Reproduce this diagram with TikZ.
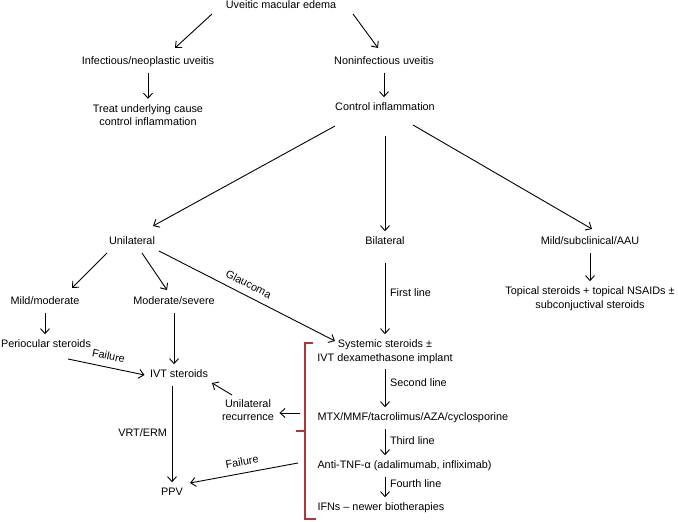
\documentclass[tikz,border=0pt]{standalone}
\usepackage{fontspec}
\setmainfont{Liberation Sans}
\usetikzlibrary{arrows.meta, positioning, calc}
\definecolor{bracketred}{RGB}{178,52,58}

\begin{document}
\begin{tikzpicture}[
    x=1bp, y=-1bp,
    >={Straight Barb[length=5bp, width=9bp]},
    txt/.style={inner sep=0pt, outer sep=5.5bp, text height=8bp, text depth=2.5bp, font=\fontsize{10.9}{13.5}\selectfont},
    txtii/.style={inner sep=0pt, outer sep=5.5bp, align=center, font=\fontsize{10.9}{13.5}\selectfont},
    lbl/.style={inner sep=2bp, outer sep=3bp, text height=8bp, text depth=2.5bp, font=\fontsize{10.9}{13.5}\selectfont},
    arr/.style={->, line width=0.9bp},
    brack/.style={line width=1.2bp, bracketred}
]
\useasboundingbox (0,0) rectangle (678,522);

\node[txt] (ume) at (281,6) {Uveitic macular edema};
\node[txt] (infect) at (148,62) {Infectious/neoplastic uveitis};
\node[txt] (noninf) at (384,62) {Noninfectious uveitis};
\node[txtii] (treat) at (148,115) {Treat underlying cause\\control inflammation};
\node[txt] (control) at (385,108) {Control inflammation};

\node[txt] (uni) at (132,242) {Unilateral};
\node[txt] (bil) at (385,242) {Bilateral};
\node[txt] (msub) at (590,242) {Mild/subclinical/AAU};
\node[txtii] (topical) at (590,298.5) {Topical steroids + topical NSAIDs ±\\subconjuctival steroids};

\node[txt] (mildmod) at (45,302) {Mild/moderate};
\node[txt] (modsev) at (174,302) {Moderate/severe};
\node[txt] (peri) at (46,345) {Periocular steroids};
\node[txt] (ivt) at (179,375) {IVT steroids};
\node[txtii] (rec) at (248,410) {Unilateral\\recurrence};
\node[txt] (ppv) at (172,493) {PPV};

\node[txtii] (sys) at (385,351.5) {Systemic steroids ±\\IVT dexamethasone implant};
\node[txt, anchor=west] (mtx) at (312,418) {MTX/MMF/tacrolimus/AZA/cyclosporine};
\node[txt, anchor=west] (anti) at (312,466) {Anti-TNF-α (adalimumab, infliximab)};
\node[txt, anchor=west] (ifn) at (312,508) {IFNs -- newer biotherapies};

\coordinate (rin) at (300,413);
\coordinate (fin) at (298,463);

\draw[arr] ($(ume)+(-69,8)$) -- ($(infect)+(27,-14)$);
\draw[arr] ($(ume)+(72,8)$) -- ($(noninf)+(-6,-14)$);
\draw[arr] (infect.south) -- (infect.south |- treat.north);
\draw[arr] (noninf.south) -- (noninf.south |- control.north);

\draw[arr] ($(control)+(-50,18)$) -- ($(uni)+(21,-16)$);
\draw[arr, shorten <=17bp] (control.south) -- (bil.north);
\draw[arr] ($(control)+(28,17)$) -- ($(msub)+(2,-13)$);
\draw[arr] (msub.south) -- (msub.south |- topical.north);

\draw[arr] ($(uni)+(-25,11)$) -- ($(mildmod)+(27,-14)$);
\draw[arr] ($(uni)+(10,11)$) -- ($(modsev)+(-7,-12)$);
\draw[arr] ($(uni)+(27,9)$) -- node[lbl, pos=0.48, sloped, above] {Glaucoma} ($(sys)+(-50,-10.5)$);
\draw[arr] (mildmod.south) -- (mildmod.south |- peri.north);
\draw[arr] (modsev.south) -- (modsev.south |- ivt.north);
\draw[arr] ($(peri)+(22,14)$) -- node[lbl, sloped, above] {Failure} (ivt.west);
\draw[arr] (ppv |- ivt.south) -- node[lbl, left] {VRT/ERM} (ppv.north);
\draw[arr] ($(rec)+(-16,-15)$) -- ($(ivt)+(33,8)$);

\draw[arr, shorten <=10bp] (bil.south) -- node[lbl, right] {First line} (bil.south |- sys.north);
\draw[arr] (sys.south) -- node[lbl, right, pos=0.4] {Second line} (sys.south |- mtx.north);
\draw[arr] (sys.south |- mtx.south) -- node[lbl, right] {Third line} (sys.south |- anti.north);
\draw[arr] (sys.south |- anti.south) -- node[lbl, right, pos=0.4] {Fourth line} (sys.south |- ifn.north);

\draw[arr] (rin) -- (rin -| rec.east);
\draw[<-, line width=0.9bp] ($(ppv)+(18,-10)$) -- node[lbl, sloped, above] {Failure} (fin);

\draw[brack] (313,343) -| (305,519) -- (316,519);
\draw[brack] (305,431) -- (296,431);
\end{tikzpicture}
\end{document}
